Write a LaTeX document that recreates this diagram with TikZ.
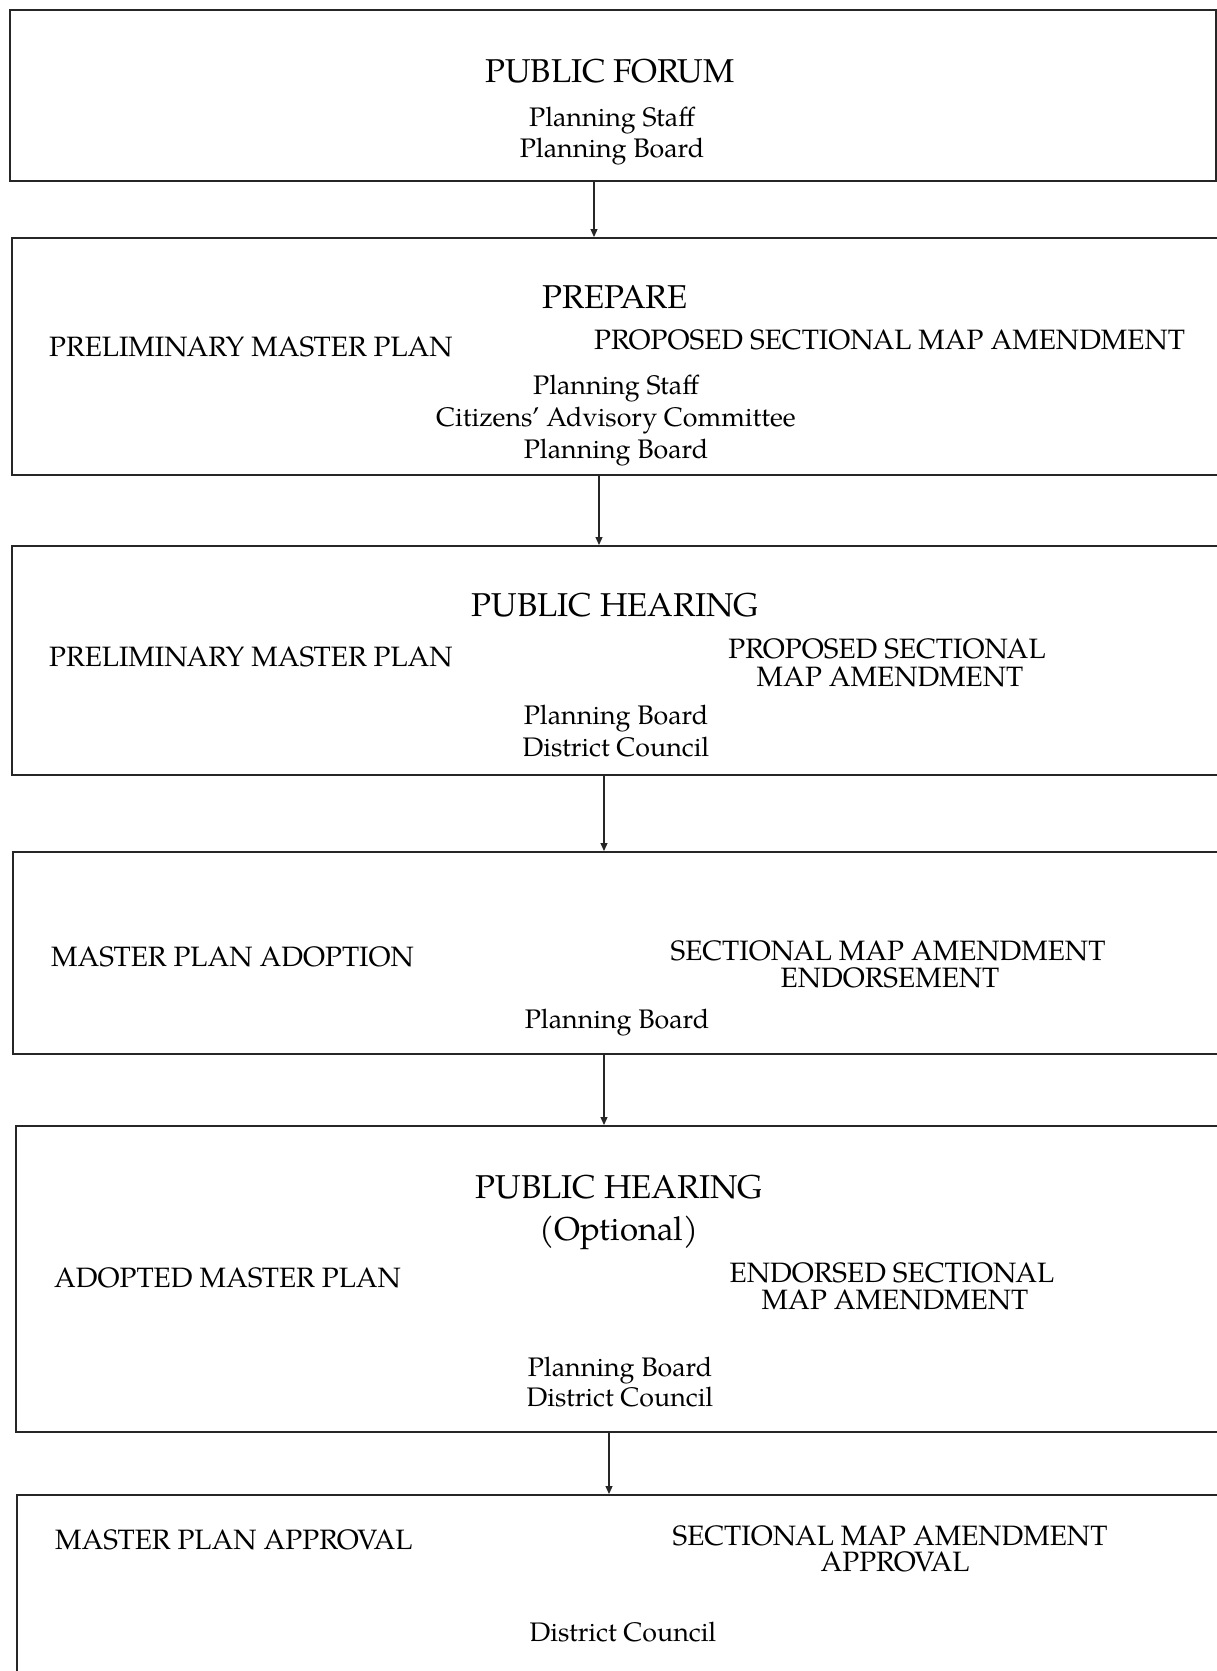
\documentclass[tikz,border=0pt]{standalone}
\usepackage{fontspec}
\setmainfont{TeX Gyre Pagella}
\usetikzlibrary{arrows.meta}
\begin{document}
\begin{tikzpicture}[x=1pt,y=-1pt,
  box/.style={draw=black!85, line width=2.4pt, anchor=north west, inner sep=0pt},
  head/.style={font=\fontsize{33}{36}\selectfont, anchor=base, inner sep=0pt},
  subh/.style={font=\fontsize{28}{28}\selectfont, anchor=base, inner sep=0pt},
  subl/.style={font=\fontsize{28}{28}\selectfont, anchor=base west, inner sep=0pt},
  body/.style={font=\fontsize{26.8}{30}\selectfont, anchor=base, inner sep=0pt},
  arr/.style={draw=black!85, line width=1.2pt, -{Triangle[length=8pt,width=7pt]}}]
\useasboundingbox (0,0) rectangle (1217,1671);
\clip (0,0) rectangle (1217,1671);
\fill[white] (0,0) rectangle (1217,1671);
% boxes
\node[box, minimum width=1206pt, minimum height=171pt] (b1) at (9,9) {};
\node[box, minimum width=1240pt, minimum height=237pt] (b2) at (11,237) {};
\node[box, minimum width=1240pt, minimum height=229pt] (b3) at (11,545) {};
\node[box, minimum width=1240pt, minimum height=202pt] (b4) at (12,851) {};
\node[box, minimum width=1240pt, minimum height=306pt] (b5) at (15,1125) {};
\node[box, minimum width=1240pt, minimum height=200pt] (b6) at (16,1494) {};
% arrow columns
\coordinate (x1) at (594,0);
\coordinate (x2) at (599,0);
\coordinate (x3) at (604,0);
\coordinate (x4) at (604,0);
\coordinate (x5) at (609,0);
\draw[arr] (b1.south -| x1) -- (b2.north -| x1);
\draw[arr] (b2.south -| x2) -- (b3.north -| x2);
\draw[arr] (b3.south -| x3) -- (b4.north -| x3);
\draw[arr] (b4.south -| x4) -- (b5.north -| x4);
\draw[arr] (b5.south -| x5) -- (b6.north -| x5);
% box 1
\node[head] (t1) at (610,82) {PUBLIC FORUM};
\node[body] (t1a) at (612,126) {Planning Staff};
\node[body] (t1b) at (612,157) {Planning Board};
% box 2
\node[head] (t2) at (615,308) {PREPARE};
\node[subl] (t2l) at (49,356) {PRELIMINARY MASTER PLAN};
\node[subl] (t2r) at (594,349) {PROPOSED SECTIONAL MAP AMENDMENT};
\node[body] (t2a) at (616,394) {Planning Staff};
\node[body] (t2b) at (616,426) {Citizens’ Advisory Committee};
\node[body] (t2c) at (616,458) {Planning Board};
% box 3
\node[head] (t3) at (615,616) {PUBLIC HEARING};
\node[subl] (t3l) at (49,666) {PRELIMINARY MASTER PLAN};
\node[subh] (t3r1) at (887,658) {PROPOSED SECTIONAL};
\node[subh] (t3r2) at (890,686) {MAP AMENDMENT};
\node[body] (t3a) at (616,724) {Planning Board};
\node[body] (t3b) at (616,756) {District Council};
% box 4
\node[subl] (t4l) at (51,966) {MASTER PLAN ADOPTION};
\node[subh] (t4r1) at (888,960) {SECTIONAL MAP AMENDMENT};
\node[subh] (t4r2) at (890,987) {ENDORSEMENT};
\node[body] (t4a) at (617,1028) {Planning Board};
% box 5
\node[head] (t5) at (619,1198) {PUBLIC HEARING};
\node[head] (t5o) at (619,1240) {(Optional)};
\node[subl] (t5l) at (54,1287) {ADOPTED MASTER PLAN};
\node[subh] (t5r1) at (892,1282) {ENDORSED SECTIONAL};
\node[subh] (t5r2) at (895,1309) {MAP AMENDMENT};
\node[body] (t5a) at (620,1376) {Planning Board};
\node[body] (t5b) at (620,1406) {District Council};
% box 6
\node[subl] (t6l) at (55,1549) {MASTER PLAN APPROVAL};
\node[subh] (t6r1) at (890,1545) {SECTIONAL MAP AMENDMENT};
\node[subh] (t6r2) at (895,1571) {APPROVAL};
\node[body] (t6a) at (623,1641) {District Council};
\end{tikzpicture}
\end{document}
